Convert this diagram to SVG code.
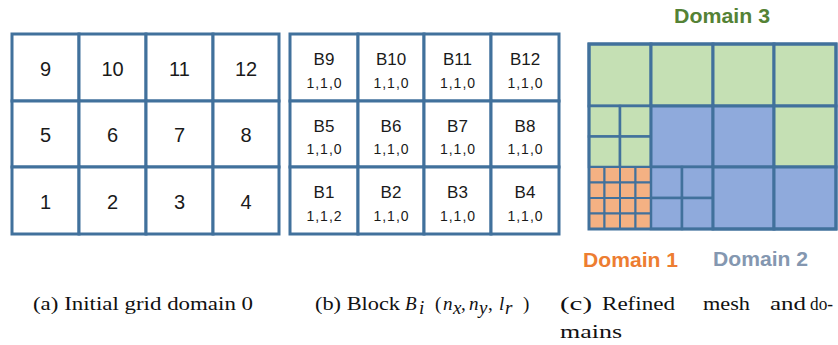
<svg xmlns="http://www.w3.org/2000/svg" width="838" height="345" viewBox="0 0 838 345">
<style>
.c{fill:#ffffff;stroke:#41719C;stroke-width:3}
.g{fill:#C5E0B4;stroke:#41719C;stroke-width:3}
.b{fill:#8FAADC;stroke:#41719C;stroke-width:3}
.gs{fill:#C5E0B4;stroke:#41719C;stroke-width:2.5}
.bs{fill:#8FAADC;stroke:#41719C;stroke-width:2.5}
.os{fill:#F4B183;stroke:#41719C;stroke-width:2}
.n{font-size:20px;fill:#1a1a1a;text-anchor:middle}
.bl{font-size:17px;fill:#1a1a1a;text-anchor:middle}
.bn{font-size:14px;fill:#1a1a1a;text-anchor:middle;letter-spacing:1px}
.dom{font-size:21px;font-weight:bold}
.cap{font-size:19px;fill:#111}
.it{font-style:italic}
</style>
<rect width="838" height="345" fill="#ffffff"/>
<!-- (a) Initial grid -->
<g id="gridA" font-family="Liberation Sans, Arial, sans-serif">
<g id="a9"><rect class="c" x="12" y="34" width="67" height="67"/><text class="n" x="45.5" y="75.5">9</text></g>
<g id="a10"><rect class="c" x="79" y="34" width="67" height="67"/><text class="n" x="112.5" y="75.5">10</text></g>
<g id="a11"><rect class="c" x="146" y="34" width="67" height="67"/><text class="n" x="179.5" y="75.5">11</text></g>
<g id="a12"><rect class="c" x="213" y="34" width="66" height="67"/><text class="n" x="246" y="75.5">12</text></g>
<g id="a5"><rect class="c" x="12" y="101" width="67" height="66"/><text class="n" x="45.5" y="142">5</text></g>
<g id="a6"><rect class="c" x="79" y="101" width="67" height="66"/><text class="n" x="112.5" y="142">6</text></g>
<g id="a7"><rect class="c" x="146" y="101" width="67" height="66"/><text class="n" x="179.5" y="142">7</text></g>
<g id="a8"><rect class="c" x="213" y="101" width="66" height="66"/><text class="n" x="246" y="142">8</text></g>
<g id="a1"><rect class="c" x="12" y="167" width="67" height="67"/><text class="n" x="45.5" y="208.5">1</text></g>
<g id="a2"><rect class="c" x="79" y="167" width="67" height="67"/><text class="n" x="112.5" y="208.5">2</text></g>
<g id="a3"><rect class="c" x="146" y="167" width="67" height="67"/><text class="n" x="179.5" y="208.5">3</text></g>
<g id="a4"><rect class="c" x="213" y="167" width="66" height="67"/><text class="n" x="246" y="208.5">4</text></g>
</g>
<!-- (b) Blocks -->
<g id="gridB" font-family="Liberation Sans, Arial, sans-serif">
<g id="B9"><rect class="c" x="290" y="34" width="68" height="67"/><text class="bl" x="324" y="65">B9</text><text class="bn" x="324.5" y="87.5">1,1,0</text></g>
<g id="B10"><rect class="c" x="358" y="34" width="66" height="67"/><text class="bl" x="391" y="65">B10</text><text class="bn" x="391.5" y="87.5">1,1,0</text></g>
<g id="B11"><rect class="c" x="424" y="34" width="67" height="67"/><text class="bl" x="457.5" y="65">B11</text><text class="bn" x="458" y="87.5">1,1,0</text></g>
<g id="B12"><rect class="c" x="491" y="34" width="68" height="67"/><text class="bl" x="525" y="65">B12</text><text class="bn" x="525.5" y="87.5">1,1,0</text></g>
<g id="B5"><rect class="c" x="290" y="101" width="68" height="66"/><text class="bl" x="324" y="131.5">B5</text><text class="bn" x="324.5" y="154">1,1,0</text></g>
<g id="B6"><rect class="c" x="358" y="101" width="66" height="66"/><text class="bl" x="391" y="131.5">B6</text><text class="bn" x="391.5" y="154">1,1,0</text></g>
<g id="B7"><rect class="c" x="424" y="101" width="67" height="66"/><text class="bl" x="457.5" y="131.5">B7</text><text class="bn" x="458" y="154">1,1,0</text></g>
<g id="B8"><rect class="c" x="491" y="101" width="68" height="66"/><text class="bl" x="525" y="131.5">B8</text><text class="bn" x="525.5" y="154">1,1,0</text></g>
<g id="B1"><rect class="c" x="290" y="167" width="68" height="67"/><text class="bl" x="324" y="198">B1</text><text class="bn" x="324.5" y="220.5">1,1,2</text></g>
<g id="B2"><rect class="c" x="358" y="167" width="66" height="67"/><text class="bl" x="391" y="198">B2</text><text class="bn" x="391.5" y="220.5">1,1,0</text></g>
<g id="B3"><rect class="c" x="424" y="167" width="67" height="67"/><text class="bl" x="457.5" y="198">B3</text><text class="bn" x="458" y="220.5">1,1,0</text></g>
<g id="B4"><rect class="c" x="491" y="167" width="68" height="67"/><text class="bl" x="525" y="198">B4</text><text class="bn" x="525.5" y="220.5">1,1,0</text></g>
</g>
<!-- (c) Refined mesh -->
<g id="meshC">
<rect class="g" x="589" y="44" width="62" height="62"/>
<rect class="g" x="651" y="44" width="62" height="62"/>
<rect class="g" x="713" y="44" width="61" height="62"/>
<rect class="g" x="774" y="44" width="62" height="62"/>
<rect class="gs" x="589" y="106" width="31" height="30.5"/>
<rect class="gs" x="620" y="106" width="31" height="30.5"/>
<rect class="gs" x="589" y="136.5" width="31" height="30.5"/>
<rect class="gs" x="620" y="136.5" width="31" height="30.5"/>
<rect class="b" x="651" y="106" width="62" height="61"/>
<rect class="b" x="713" y="106" width="61" height="61"/>
<rect class="g" x="774" y="106" width="62" height="61"/>
<g id="orange">
<rect class="os" x="589" y="167" width="15.5" height="15.5"/><rect class="os" x="604.5" y="167" width="15.5" height="15.5"/><rect class="os" x="620" y="167" width="15.5" height="15.5"/><rect class="os" x="635.5" y="167" width="15.5" height="15.5"/>
<rect class="os" x="589" y="182.5" width="15.5" height="15.5"/><rect class="os" x="604.5" y="182.5" width="15.5" height="15.5"/><rect class="os" x="620" y="182.5" width="15.5" height="15.5"/><rect class="os" x="635.5" y="182.5" width="15.5" height="15.5"/>
<rect class="os" x="589" y="198" width="15.5" height="15.5"/><rect class="os" x="604.5" y="198" width="15.5" height="15.5"/><rect class="os" x="620" y="198" width="15.5" height="15.5"/><rect class="os" x="635.5" y="198" width="15.5" height="15.5"/>
<rect class="os" x="589" y="213.5" width="15.5" height="15.5"/><rect class="os" x="604.5" y="213.5" width="15.5" height="15.5"/><rect class="os" x="620" y="213.5" width="15.5" height="15.5"/><rect class="os" x="635.5" y="213.5" width="15.5" height="15.5"/>
</g>
<rect class="bs" x="651" y="167" width="31" height="31"/>
<rect class="bs" x="682" y="167" width="31" height="31"/>
<rect class="bs" x="651" y="198" width="31" height="31"/>
<rect class="bs" x="682" y="198" width="31" height="31"/>
<rect class="b" x="713" y="167" width="61" height="62"/>
<rect class="b" x="774" y="167" width="62" height="62"/>
<rect x="589" y="44" width="247" height="185" fill="none" stroke="#41719C" stroke-width="3"/>
</g>
<g id="labels" font-family="Liberation Sans, Arial, sans-serif">
<text class="dom" x="674" y="22.5" fill="#548235" textLength="96" lengthAdjust="spacingAndGlyphs">Domain 3</text>
<text class="dom" x="583" y="266.5" fill="#ED7D31" textLength="95" lengthAdjust="spacingAndGlyphs">Domain 1</text>
<text class="dom" x="713" y="265.5" fill="#8497B0" textLength="95" lengthAdjust="spacingAndGlyphs">Domain 2</text>
</g>
<!-- captions -->
<g id="captions" font-family="Liberation Serif, Times New Roman, serif">
<text class="cap" x="33" y="310" textLength="220" lengthAdjust="spacingAndGlyphs">(a) Initial grid domain 0</text>
<text class="cap" x="315" y="310" textLength="85" lengthAdjust="spacingAndGlyphs">(b) Block</text>
<text class="cap it" x="405" y="310">B</text>
<text class="cap it" x="419" y="314" font-size="14">i</text>
<text class="cap" x="435" y="310" font-size="23">(</text>
<text class="cap it" x="443" y="310">n</text>
<text class="cap it" x="453" y="314" font-size="14">x</text>
<text class="cap" x="461" y="310">,</text>
<text class="cap it" x="469" y="310">n</text>
<text class="cap it" x="479" y="314" font-size="14">y</text>
<text class="cap" x="488" y="310">,</text>
<text class="cap it" x="499" y="310">l</text>
<text class="cap it" x="505" y="314" font-size="14">r</text>
<text class="cap" x="523" y="310" font-size="23">)</text>
<text class="cap" x="560" y="310" textLength="32" lengthAdjust="spacingAndGlyphs">(c)</text>
<text class="cap" x="602" y="310" textLength="73" lengthAdjust="spacingAndGlyphs">Refined</text>
<text class="cap" x="703" y="310" textLength="47" lengthAdjust="spacingAndGlyphs">mesh</text>
<text class="cap" x="770" y="310" textLength="36" lengthAdjust="spacingAndGlyphs">and</text>
<text class="cap" x="810" y="310" textLength="23" lengthAdjust="spacingAndGlyphs">do-</text>
<text class="cap" x="560" y="338" textLength="62" lengthAdjust="spacingAndGlyphs">mains</text>
</g>
</svg>
